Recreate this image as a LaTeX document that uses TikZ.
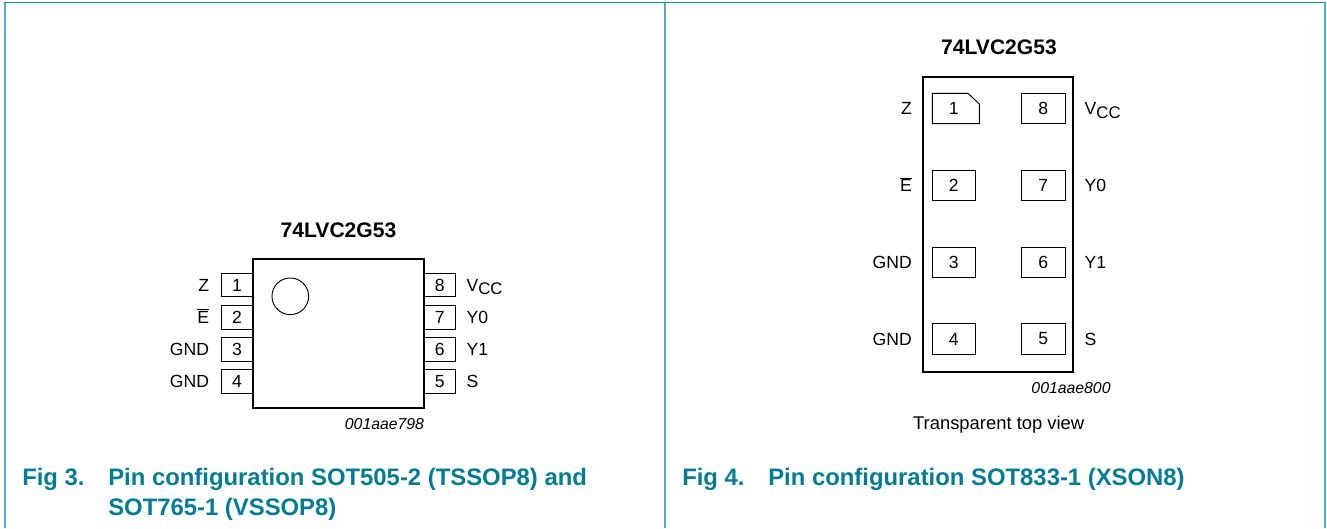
\documentclass[tikz,border=0pt]{standalone}
\usepackage{fontspec}
\setmainfont{Liberation Sans}
\usepackage{xcolor}
\usetikzlibrary{positioning,calc}
\definecolor{NxpTeal}{HTML}{007C92}
\definecolor{NxpFrame}{HTML}{5DA9BF}
\definecolor{NxpTop}{HTML}{1B8EA8}
\tikzset{
    x=0.75pt,y=-0.75pt,
    pinbox/.style = {draw, line width=0.7pt, inner sep=0pt, font=\fontsize{13.2}{15}\selectfont},
    sopin/.style = {pinbox, minimum width=23pt, minimum height=17.6pt},
    xsonpin/.style = {pinbox, minimum width=32.5pt, minimum height=22.8pt},
    pinlabel/.style = {inner sep=0pt, text height=9.5pt, text depth=0pt, font=\fontsize{13.2}{15}\selectfont},
    title/.style = {inner sep=0pt, font=\fontsize{15.8}{18}\selectfont\bfseries},
    marking/.style = {inner sep=0pt, font=\fontsize{11.85}{14}\selectfont\itshape},
    caption/.style = {inner sep=0pt, anchor=base west, text=NxpTeal, font=\fontsize{17.9}{20}\selectfont\bfseries}
}
\newcommand{\Vcc}{V\raisebox{-0.35ex}{\fontsize{12.6}{15}\selectfont CC}}
\newcommand{\Ebar}{$\overline{\mbox{E}}$}
\begin{document}
\begin{tikzpicture}
            \useasboundingbox (0,0) rectangle (1327,528);
            % panels
            \draw[NxpFrame,line width=1.4pt] (5,2) -- (5,528);
            \draw[NxpFrame,line width=1.1pt] (665,2) -- (665,528);
            \draw[NxpFrame,line width=1.4pt] (1325,2) -- (1325,528);
            \draw[NxpTop,line width=0.9pt] (4,2.5) -- (1326,2.5);

            % Fig 3
            \node[title] (titleA) at (338.5,230) {74LVC2G53};
            \draw[line width=1.6pt] (252.7,259) rectangle (424,408);
            \node[sopin,anchor=east] (pinA) at (252.7,285) {1};
            \node[sopin,anchor=east] (pinB) at (252.7,317.3) {2};
            \node[sopin,anchor=east] (pinC) at (252.7,349.3) {3};
            \node[sopin,anchor=east] (pinD) at (252.7,381.3) {4};
            \node[sopin,anchor=west] (pinH) at (424,285) {8};
            \node[sopin,anchor=west] (pinG) at (424,317.3) {7};
            \node[sopin,anchor=west] (pinF) at (424,349.3) {6};
            \node[sopin,anchor=west] (pinE) at (424,381.3) {5};
            \node[circle,draw,line width=0.7pt,minimum size=27.5pt,inner sep=0pt] (dot) at (290.3,296.3) {};
            \node[pinlabel] [left=8.8pt of pinA] {Z};
            \node[pinlabel] [left=8.8pt of pinB] {\Ebar};
            \node[pinlabel] [left=8.8pt of pinC] {GND};
            \node[pinlabel] [left=8.8pt of pinD] {GND};
            \node[pinlabel] [right=8pt of pinH] {\Vcc};
            \node[pinlabel] [right=8pt of pinG] {Y0};
            \node[pinlabel] [right=8pt of pinF] {Y1};
            \node[pinlabel] [right=8pt of pinE] {S};
            \node[marking] at (384.5,424) {001aae798};

            % Fig 4
            \node[title] (titleB) at (999,47.5) {74LVC2G53};
            \draw[line width=1.6pt] (923.3,76.7) rectangle (1073.3,371.7);
            \node[xsonpin,draw=none] (pinJ) at (953.8,108.5) {1};
            \draw[line width=0.7pt] (932.3,93.3) -- (968,93.3) -- (979.3,104) -- (979.3,123.7) -- (932.3,123.7) -- cycle;
            \node[xsonpin] (pinK) at (953.8,185.5) {2};
            \node[xsonpin] (pinL) at (953.8,262.2) {3};
            \node[xsonpin] (pinM) at (953.8,339) {4};
            \node[xsonpin] (pinS) at (1043.3,108.5) {8};
            \node[xsonpin] (pinR) at (1043.3,185.5) {7};
            \node[xsonpin] (pinQ) at (1043.3,262.2) {6};
            \node[xsonpin] (pinP) at (1043.3,339) {5};
            \node[pinlabel] [left=14.7pt of pinJ] {Z};
            \node[pinlabel] [left=14.7pt of pinK] {\Ebar};
            \node[pinlabel] [left=14.7pt of pinL] {GND};
            \node[pinlabel] [left=14.7pt of pinM] {GND};
            \node[pinlabel] [right=14.2pt of pinS] {\Vcc};
            \node[pinlabel] [right=14.2pt of pinR] {Y0};
            \node[pinlabel] [right=14.2pt of pinQ] {Y1};
            \node[pinlabel] [right=14.2pt of pinP] {S};
            \node[marking] at (1071,387.7) {001aae800};
            \node[pinlabel,font=\fontsize{13.8}{16}\selectfont] at (998.7,422.7) {Transparent top view};

            % captions
            \node[caption] (figA) at (22,485) {Fig 3.};
            \node[caption] (capA) at (108,485) {Pin configuration SOT505-2 (TSSOP8) and};
            \node[caption] (capB) at (108,515) {SOT765-1 (VSSOP8)};
            \node[caption] (figB) at (682,485) {Fig 4.};
            \node[caption] (capC) at (768,485) {Pin configuration SOT833-1 (XSON8)};
\end{tikzpicture}
\end{document}
